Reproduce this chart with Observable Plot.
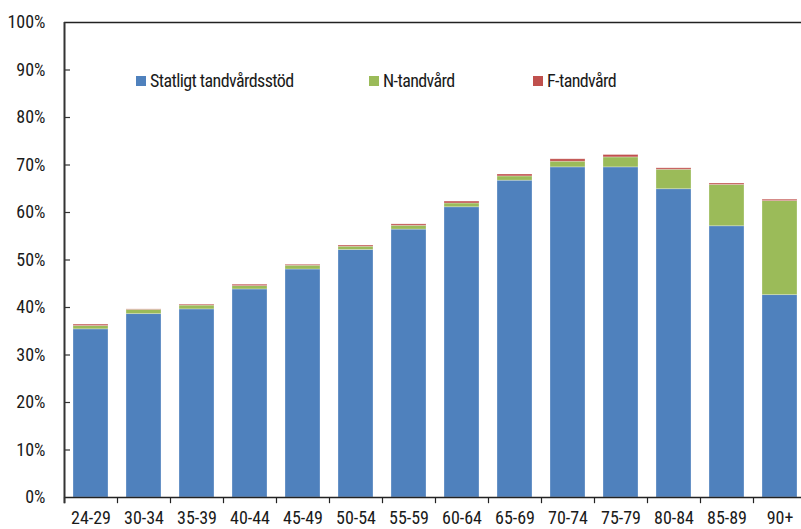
<!DOCTYPE html>
<html>
<head>
<meta charset="utf-8">
<script src="https://cdn.jsdelivr.net/npm/d3@7"></script>
<script src="https://cdn.jsdelivr.net/npm/@observablehq/plot@0.6"></script>
<style>
  body { margin: 0; background: #fff; }
  #wrap { position: relative; width: 801px; height: 529px; font-family: "Liberation Sans Narrow", "Roboto Condensed", "DejaVu Sans Condensed", sans-serif; }
  .leg { position: absolute; top: 70px; font-size: 18px; letter-spacing: -0.6px; color: #1a1a1a; white-space: nowrap; display: flex; align-items: center; }
  .leg span.sw { display: inline-block; width: 10px; height: 10px; margin-right: 4px; }
</style>
</head>
<body>
<div id="wrap"></div>
<script>
const ageGroups = ["24-29","30-34","35-39","40-44","45-49","50-54","55-59","60-64","65-69","70-74","75-79","80-84","85-89","90+"];
const seriesNames = ["Statligt tandvårdsstöd", "N-tandvård", "F-tandvård"];
const statligt = [35.4, 38.6, 39.6, 43.8, 48.0, 52.1, 56.4, 61.1, 66.7, 69.5, 69.5, 64.9, 57.1, 42.6];
const nTandvard = [0.7, 0.9, 0.8, 0.7, 0.8, 0.7, 0.8, 0.8, 0.9, 1.2, 2.1, 4.1, 8.7, 19.8];
const fTandvard = [0.3, 0.1, 0.2, 0.3, 0.2, 0.25, 0.3, 0.4, 0.4, 0.5, 0.5, 0.3, 0.3, 0.3];
const yTicks = [0,10,20,30,40,50,60,70,80,90,100];
const colors = ["#4F81BD", "#9BBB59", "#C0504D"];

const rows = [];
ageGroups.forEach((a, i) => {
  rows.push({age: a, series: seriesNames[0], value: statligt[i]});
  rows.push({age: a, series: seriesNames[1], value: nTandvard[i]});
  rows.push({age: a, series: seriesNames[2], value: fTandvard[i]});
});

const font = '"Liberation Sans Narrow", "Roboto Condensed", "DejaVu Sans Condensed", sans-serif';
const step = (806 - 64) / ageGroups.length;

const chart = Plot.plot({
  width: 801,
  height: 529,
  marginLeft: 64,
  marginRight: 0,
  marginTop: 22,
  marginBottom: 32,
  style: {fontFamily: font, fontSize: "18px", color: "#1a1a1a", background: "white", overflow: "visible"},
  x: {domain: ageGroups, range: [64, 806], paddingInner: 0.34, paddingOuter: 0.17, label: null},
  y: {domain: [0, 100], label: null},
  color: {domain: seriesNames, range: colors},
  marks: [
    Plot.barY(rows, {x: "age", y: "value", fill: "series", stroke: "white", strokeOpacity: 0.35, strokeWidth: 0.8}),
    Plot.axisY(yTicks, {tickSize: 0, tickPadding: 19, tickFormat: d => d + "%", fontSize: 18, fill: "#1a1a1a"}),
    Plot.tickY(yTicks.slice(1, -1), {y: d => d, stroke: "#333", strokeWidth: 1.2, insetRight: 801 - 64 - 6}),
    Plot.axisX({tickSize: 0, tickPadding: 14, fontSize: 18, fill: "#1a1a1a"}),
    Plot.ruleX(ageGroups, {x: d => d, y1: 0, y2: -1.3, dx: -step / 2, stroke: "#222", strokeWidth: 1.2}),
    Plot.ruleY([0], {stroke: "#222", strokeWidth: 1.5}),
    Plot.ruleY([100], {stroke: "#222", strokeWidth: 1.5}),
    Plot.ruleX([ageGroups[0]], {x: d => d, y1: -1.3, y2: 100, dx: -step / 2, stroke: "#333", strokeWidth: 2})
  ]
});

const wrap = document.getElementById("wrap");
wrap.appendChild(chart);

const legendPos = [136, 369, 533];
seriesNames.forEach((s, i) => {
  const d = document.createElement("div");
  d.className = "leg";
  d.style.left = legendPos[i] + "px";
  d.innerHTML = `<span class="sw" style="background:${colors[i]}"></span>${s}`;
  wrap.appendChild(d);
});
</script>
</body>
</html>
